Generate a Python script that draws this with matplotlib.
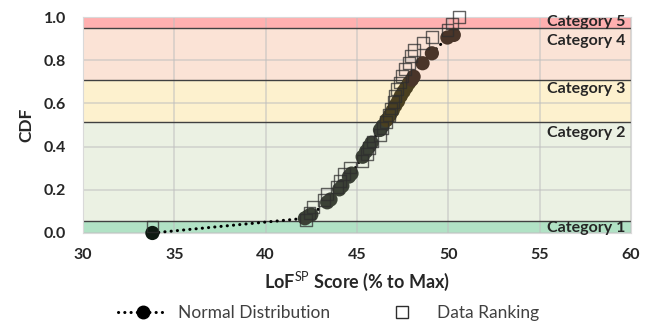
import matplotlib
matplotlib.use("Agg")
import matplotlib.pyplot as plt
from matplotlib.lines import Line2D

plt.rcParams.update({
    "font.family": ["Lato", "DejaVu Sans"],
    "mathtext.fontset": "custom",
    "mathtext.rm": "Lato",
    "mathtext.bf": "Lato:bold",
})

# ---- data ------------------------------------------------------------
# Normal distribution (circles)
norm_x = [33.8, 42.15, 42.35, 42.5, 43.37, 43.55, 44.03, 44.2, 44.56, 44.7,
          45.31, 45.5, 45.67, 45.8, 46.26, 46.4, 46.62, 46.8, 46.95, 47.1,
          47.25, 47.4, 47.55, 47.7, 47.85, 48.0, 48.1, 48.59, 49.1, 49.95,
          50.3]
norm_y = [0.0, 0.068, 0.079, 0.085, 0.142, 0.155, 0.202, 0.218, 0.261, 0.275,
          0.353, 0.378, 0.400, 0.418, 0.477, 0.495, 0.523, 0.545, 0.566, 0.590,
          0.610, 0.635, 0.655, 0.675, 0.695, 0.710, 0.724, 0.786, 0.832, 0.905,
          0.917]

# Data ranking (squares)
rank_x = [33.8, 42.2, 42.4, 42.6, 43.2, 43.35, 43.9, 44.07, 44.3, 44.6,
          45.3, 45.55, 45.65, 45.85, 46.25, 46.4, 46.6, 46.75, 46.85, 47.0,
          47.1, 47.2, 47.35, 47.45, 47.65, 47.85, 47.95, 48.1, 48.6, 49.1,
          49.95, 50.2, 50.6]
rank_y = [0.030, 0.061, 0.091, 0.121, 0.152, 0.182, 0.212, 0.242, 0.273, 0.303,
          0.333, 0.364, 0.394, 0.424, 0.455, 0.485, 0.515, 0.545, 0.576, 0.606,
          0.636, 0.667, 0.697, 0.727, 0.758, 0.788, 0.818, 0.848, 0.879, 0.909,
          0.939, 0.970, 1.000]

# category bands (lower, upper CDF)
cat_names = ["Category 1", "Category 2", "Category 3", "Category 4", "Category 5"]
cat_lo = [0.0, 0.055, 0.515, 0.71, 0.95]
cat_hi = [0.055, 0.515, 0.71, 0.95, 1.0]
cat_label_y = [0.025, 0.464, 0.667, 0.89, 0.975]
cat_colors = ["#B1E2C5", "#EBF1E3", "#FDF1CE", "#FBE3D6", "#FFB0B0"]

# marker tint per band for the circles
dot_colors = ["#0E1A12", "#3B4136", "#4B4020", "#4A3529", "#4A3529"]


def band_of(v):
    for k in range(len(cat_lo) - 1, -1, -1):
        if v >= cat_lo[k]:
            return k
    return 0


DOTTED = (0, (0.05, 2.0))

fig = plt.figure(figsize=(6.57, 3.24), dpi=100)
ax = fig.add_axes([0.1263, 0.2809, 0.8341, 0.6666])

for lo, hi, c in zip(cat_lo, cat_hi, cat_colors):
    ax.axhspan(lo, hi, color=c, lw=0, zorder=0.1)
for b in cat_lo[1:]:
    ax.axhline(b, color="#404040", lw=1.0, zorder=2)

ax.set_axisbelow(True)
ax.grid(True, color="#BFBFBF", alpha=0.55, lw=1.3)

# dotted connecting line + circles
ax.plot(norm_x, norm_y, color="black", lw=2.2, ls=DOTTED,
        dash_capstyle="round", zorder=3, clip_on=False)
cols = [dot_colors[0] if i == 0 else dot_colors[band_of(v)]
        for i, v in enumerate(norm_y)]
ax.scatter(norm_x, norm_y, s=105, c=cols, edgecolors="none", zorder=4,
           clip_on=False)

# squares
ax.scatter(rank_x, rank_y, s=72, marker="s", facecolors="none",
           edgecolors="#2E2E2E", linewidths=1.0, alpha=0.75, zorder=5,
           clip_on=False)

for name, yy in zip(cat_names, cat_label_y):
    ax.text(59.7, yy, name, ha="right", va="center", fontsize=11.5,
            fontweight="bold", color="#262626", zorder=6)

ax.set_xlim(30, 60)
ax.set_ylim(0, 1)
ax.set_xticks(range(30, 61, 5))
ax.set_yticks([0.0, 0.2, 0.4, 0.6, 0.8, 1.0])
ax.set_yticklabels([f"{v:.1f}" for v in [0.0, 0.2, 0.4, 0.6, 0.8, 1.0]])
ax.tick_params(length=0, labelsize=11.5, colors="#262626")
ax.tick_params(axis="y", pad=12)
ax.tick_params(axis="x", pad=11)
for lab in ax.get_xticklabels() + ax.get_yticklabels():
    lab.set_fontweight("bold")
for s in ax.spines.values():
    s.set_color("#D9D9D9")

ax.set_xlabel(r"LoF$^{\mathrm{SP}}$ Score (% to Max)", fontsize=13,
              fontweight="bold", color="#262626", labelpad=5)
ax.set_ylabel("CDF", fontsize=12.5, fontweight="bold", color="#262626",
              labelpad=7)

handles = [
    Line2D([], [], color="black", lw=2.2, ls=DOTTED,
           dash_capstyle="round", marker="o", markersize=9,
           markerfacecolor="black", markeredgecolor="black"),
    Line2D([], [], ls="none", marker="s", markersize=8,
           markerfacecolor="none", markeredgecolor="#2E2E2E",
           markeredgewidth=1.0),
]
fig.legend(handles, ["Normal Distribution", "Data Ranking"],
           loc="center", bbox_to_anchor=(0.5, 0.034), ncol=2,
           frameon=False, fontsize=12.5, handlelength=2.9,
           handletextpad=0.55, columnspacing=2.7, labelcolor="#404040")

fig.savefig("out.png", dpi=100)
